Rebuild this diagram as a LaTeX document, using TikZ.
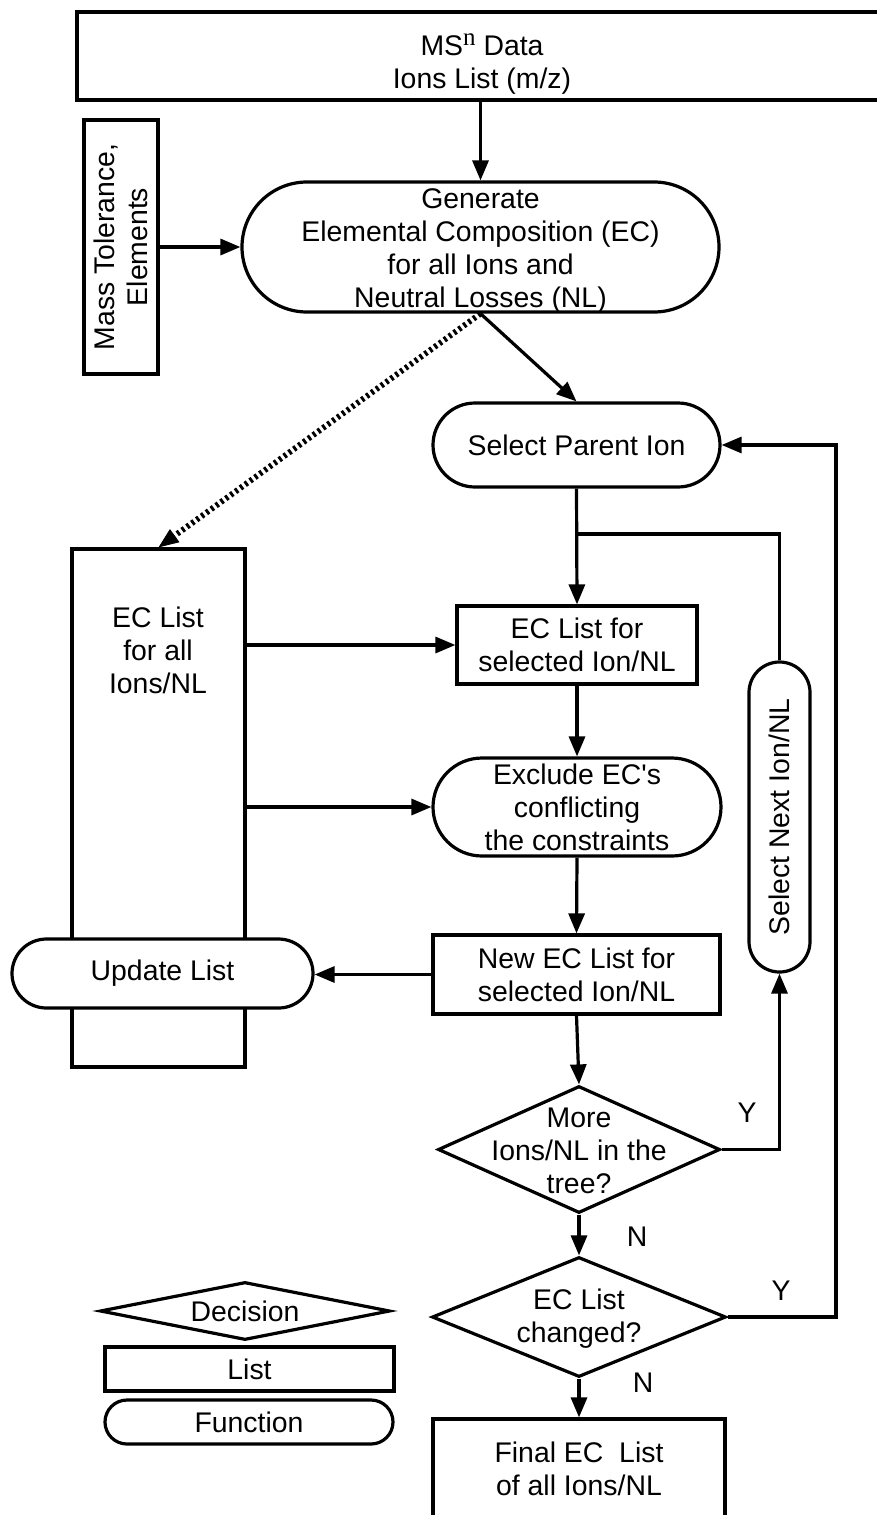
\documentclass[tikz,border=0pt]{standalone}
\usepackage{fontspec}
\setmainfont{Liberation Sans}[Ligatures=TeXOff]
\newfontfamily\serifn{Liberation Serif}
\usetikzlibrary{arrows.meta,shapes.misc,shapes.geometric}
\newcommand{\supn}{\raisebox{5.2pt}{\fontsize{12.5pt}{12.5pt}\selectfont\serifn n}}
\begin{document}
\begin{tikzpicture}[x=0.5pt,y=-0.5pt,
  line width=1.6pt,
  txt/.style={font=\fontsize{14.2pt}{16.5pt}\selectfont, align=center, inner sep=0pt},
  listbox/.style={draw, rectangle, fill=white, inner sep=0pt},
  func/.style={draw, rounded rectangle, fill=white, inner sep=0pt},
  decision/.style={draw, diamond, fill=white, inner sep=0pt},
  arr/.style={-{Triangle[length=10pt,width=8pt]}},
  flow/.style={dash pattern=on 1.4pt off 1.6pt, line width=2.9pt,
    -{Triangle[length=10pt,width=8pt,line width=0.4pt]}}
]
\useasboundingbox (0,0) rectangle (877,1515);

% input data and parameters
\node[listbox, minimum width=406.5pt, minimum height=44pt] (src) at (483.5,56) {};
\node[txt] (src-t) at (482,64) {MS\supn{} Data\\Ions List (m/z)};
\node[listbox, minimum width=37pt, minimum height=127pt] (mass) at (121,247) {};
\node[txt, rotate=90] (mass-t) at (mass) {Mass Tolerance,\\Elements};

% generation step
\node[func, minimum width=238.5pt, minimum height=65pt] (gen) at (480.5,247) {};
\node[txt] (gen-t) at (480.5,251) {Generate\\Elemental Composition (EC)\\for all Ions and\\Neutral Losses (NL)};

% global list of compositions
\node[listbox, minimum width=86.5pt, minimum height=259pt] (all) at (158.5,808) {};
\node[txt] (all-t) at (158,650) {EC List\\for all\\Ions/NL};
\node[func, minimum width=150.5pt, minimum height=34.5pt] (upd) at (162.5,973.5) {};
\node[txt] (upd-t) at (upd) {Update List};

% main loop
\node[func, minimum width=143.5pt, minimum height=42pt] (spi) at (576.5,445) {};
\node[txt] (spi-t) at (spi) {Select Parent Ion};
\node[listbox, minimum width=120pt, minimum height=39pt] (sel) at (577,645) {};
\node[txt] (sel-t) at (sel) {EC List for\\selected Ion/NL};
\node[func, minimum width=144pt, minimum height=49pt] (excl) at (577,807) {};
\node[txt] (excl-t) at (577,807) {Exclude EC's\\conflicting\\the constraints};
\node[listbox, minimum width=143.5pt, minimum height=39.5pt] (newl) at (576.5,974.5) {};
\node[txt] (newl-t) at (newl) {New EC List for\\selected Ion/NL};
\node[func, minimum width=155pt, minimum height=30.5pt, rotate=90] (next) at (779.5,817) {};
\node[txt, rotate=90] (next-t) at (next) {Select Next Ion/NL};
\node[decision, minimum width=141pt, minimum height=63.5pt] (d1) at (579,1149.5) {};
\node[txt] (d1-t) at (579,1151) {More\\Ions/NL in the\\tree?};
\node[decision, minimum width=147pt, minimum height=60pt] (d2) at (579,1317) {};
\node[txt] (d2-t) at (579,1319) {EC List\\changed?};
\node[listbox, minimum width=146pt, minimum height=50pt] (final) at (579,1469) {};
\node[txt] (final-t) at (579,1469) {Final EC\ \ List\\of all Ions/NL};

% legend
\node[decision, minimum width=145pt, minimum height=29pt] (lg-d) at (245,1311) {};
\node[txt] (lg-d-t) at (lg-d) {Decision};
\node[listbox, minimum width=144.5pt, minimum height=22pt] (lg-l) at (249.5,1369) {};
\node[txt] (lg-l-t) at (lg-l) {List};
\node[func, minimum width=144pt, minimum height=22pt] (lg-f) at (249,1422) {};
\node[txt] (lg-f-t) at (lg-f) {Function};

% branch labels
\node[txt] (y1) at (747,1113) {Y};
\node[txt] (n1) at (637,1237) {N};
\node[txt] (y2) at (781,1291) {Y};
\node[txt] (n2) at (643,1383) {N};

% connectors
\coordinate (join) at (577,534);
\coordinate (ret) at (836,1317);
\draw[arr] (gen.north |- src.south) -- (gen.north);
\draw[arr] (mass.east |- gen.west) -- (gen.west);
\draw[arr] (gen.south) -- (spi.north);
\draw[flow] (gen.south) -- (all.north);
\draw[arr] (spi.south) -- (sel.north);
\draw (next.east) |- (join);
\draw[arr] (all.east |- sel.west) -- (sel.west);
\draw[arr] (sel.south) -- (excl.north);
\draw[arr] (all.east |- excl.west) -- (excl.west);
\draw[arr] (excl.south) -- (newl.north);
\draw[arr] (newl.west) -- (upd.east |- newl.west);
\draw[arr] (newl.south) -- (d1.north);
\draw[arr] (d1.east) -| (next.west);
\draw[arr] (d1.south) -- (d2.north);
\draw[arr] (d2.east) -- (ret) |- (spi.east);
\draw[arr] (d2.south) -- (final.north);
\end{tikzpicture}
\end{document}
